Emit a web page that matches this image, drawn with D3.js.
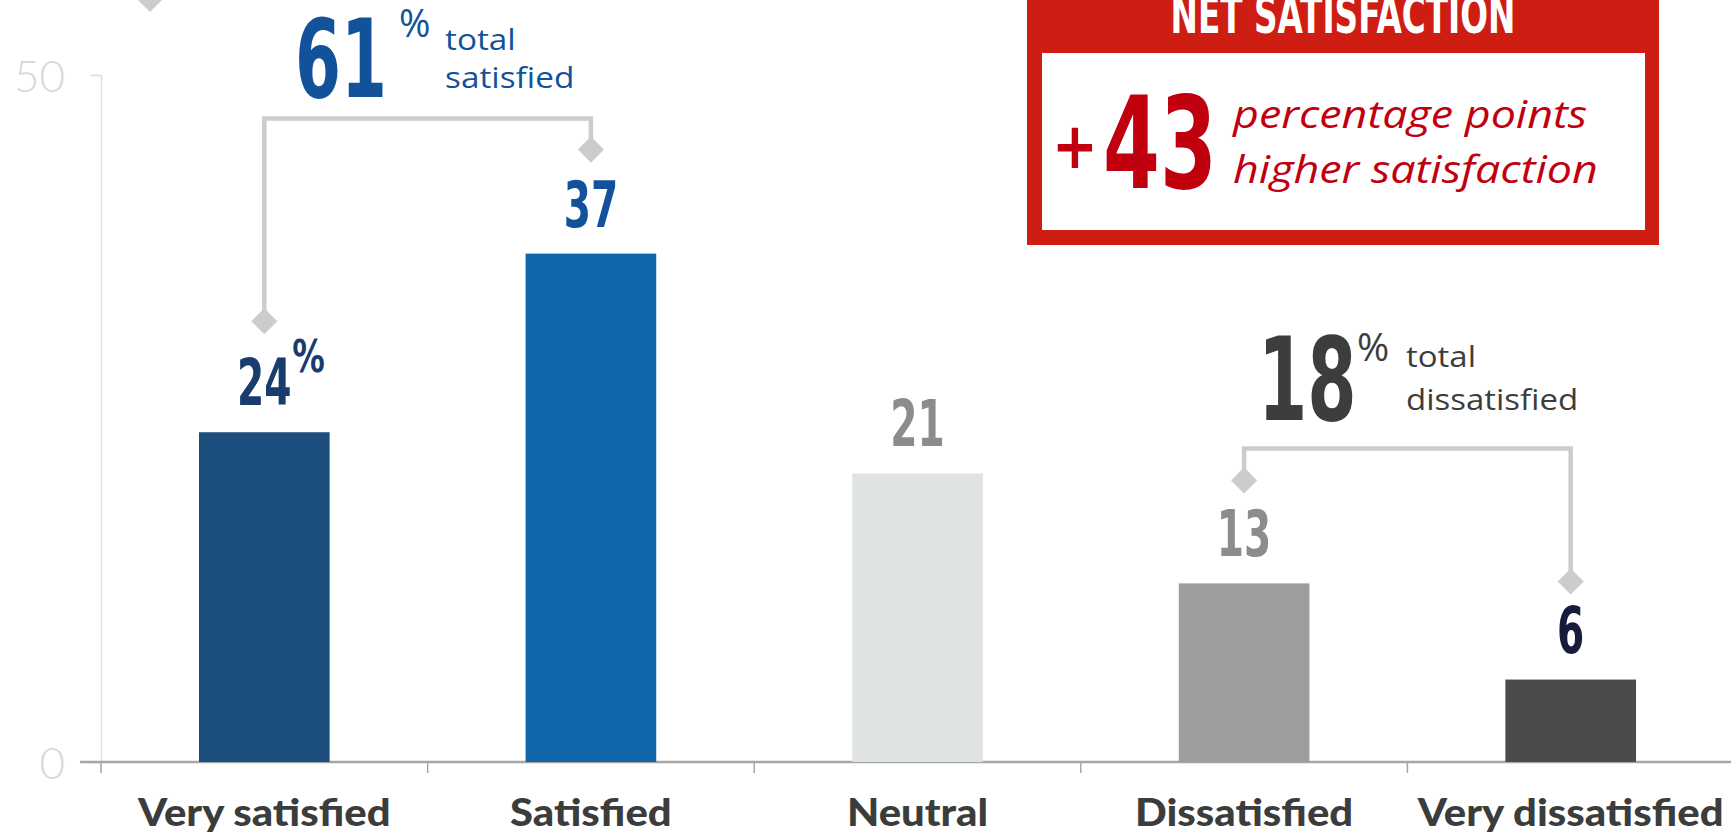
<!DOCTYPE html>
<html>
<head>
<meta charset="utf-8">
<script src="https://cdn.jsdelivr.net/npm/d3@7"></script>
<style>
  html, body { margin: 0; padding: 0; background: #ffffff; overflow: hidden; }
  svg { display: block; }
</style>
</head>
<body>
<svg id="chart" width="1731" height="835"></svg>
<script>
// ---------- data ----------
const categories = ["Very satisfied", "Satisfied", "Neutral", "Dissatisfied", "Very dissatisfied"];
const values = [24, 37, 21, 13, 6];
const barColors = ["#1d4f7e", "#1066a9", "#e0e3e4", "#9c9e9d", "#4a4b4b"];
const valueColors = ["#183d6d", "#12529a", "#8a8d8c", "#8a8d8c", "#161c3a"];
const yTicks = [0, 50];
const totalSatisfied = 61;
const totalDissatisfied = 18;
const netSatisfaction = 43;

// ---------- layout ----------
const svg = d3.select("#chart");
const y = d3.scaleLinear().domain([0, 50]).range([762, 75]);
const x = d3.scaleBand().domain(categories).range([101, 1734]).paddingInner(0.6).paddingOuter(0.3);
const cx = d => x(d) + x.bandwidth() / 2;

const condensed = "'Liberation Sans Narrow', 'DejaVu Sans Condensed', 'DejaVu Sans', sans-serif";
const geo = "'Open Sans', Lato, sans-serif";
const CS = 0.68; // horizontal squeeze for the condensed display numerals

function txt(g, str, px, py, opts) {
  const sx = opts.sx || 1;
  const t = g.append("text")
    .attr("transform", `translate(${px},${py}) scale(${sx},1)`)
    .attr("font-family", opts.family)
    .attr("font-size", opts.size)
    .attr("font-weight", opts.weight || 400)
    .attr("font-style", opts.style || "normal")
    .attr("fill", opts.fill)
    .attr("text-anchor", opts.anchor || "start")
    .text(str);
  if (opts.ls) t.attr("letter-spacing", opts.ls);
  return t;
}

// ---------- axes ----------
const yAxis = svg.append("g").attr("transform", "translate(101,0)")
  .call(d3.axisLeft(y).tickValues(yTicks).tickSize(11).tickPadding(25).tickFormat(d3.format("d")));
yAxis.select(".domain").attr("stroke", "#e0e0e0").attr("stroke-width", 1.5);
yAxis.selectAll(".tick line").attr("stroke", "#e0e0e0").attr("stroke-width", 1.5);
yAxis.selectAll(".tick text").attr("font-family", "Lato, sans-serif").attr("font-weight", 300)
  .attr("font-size", 44).attr("fill", "#d9d9d9").attr("dy", "0.38em");

const xAxis = svg.append("g").attr("transform", "translate(0,762)")
  .call(d3.axisBottom(x).tickSize(0).tickFormat(""));
xAxis.select(".domain").attr("stroke", "#a6a6a6").attr("stroke-width", 2.5).attr("d", "M80,0H1731");
xAxis.selectAll("line.bound").data(categories).enter().append("line")
  .attr("class", "bound")
  .attr("x1", d => x(d) - x.step() * x.paddingOuter()).attr("x2", d => x(d) - x.step() * x.paddingOuter())
  .attr("y1", 0).attr("y2", 11).attr("stroke", "#a6a6a6").attr("stroke-width", 1.5);

// ---------- bars ----------
svg.append("g").selectAll("rect").data(values).enter().append("rect")
  .attr("x", (d, i) => x(categories[i]))
  .attr("y", d => y(d))
  .attr("width", x.bandwidth())
  .attr("height", d => y(0) - y(d))
  .attr("fill", (d, i) => barColors[i]);

// value labels
const vl = svg.append("g");
values.forEach((v, i) => {
  txt(vl, String(v), cx(categories[i]), y(v) - 27, {
    family: condensed, size: 64, weight: 700, fill: valueColors[i], anchor: "middle", sx: CS
  });
});
txt(vl, "%", cx(categories[0]) + 28, y(values[0]) - 60, {
  family: condensed, size: 44, weight: 700, fill: valueColors[0], anchor: "start", sx: 0.82
});

// category labels
const cl = svg.append("g");
categories.forEach(c => {
  txt(cl, c, cx(c), 826, { family: "Lato, sans-serif", size: 38, weight: 900, fill: "#3b3c3c", anchor: "middle", sx: 1.1 });
});

// ---------- brackets ----------
const bracketColor = "#cccccc";
const br = svg.append("g");
function diamond(px, py) {
  br.append("path").attr("d", d3.symbol().type(d3.symbolSquare).size(340)())
    .attr("transform", `translate(${px},${py}) rotate(45)`).attr("fill", bracketColor);
}
function bracket(i0, i1, offs0, offs1) {
  const top = Math.min(y(values[i0]), y(values[i1])) - 135;
  const x0 = cx(categories[i0]), x1 = cx(categories[i1]);
  const d0 = y(values[i0]) - offs0, d1 = y(values[i1]) - offs1;
  br.append("path").attr("d", `M${x0},${d0}V${top}H${x1}V${d1}`)
    .attr("fill", "none").attr("stroke", bracketColor).attr("stroke-width", 4.5);
  diamond(x0, d0); diamond(x1, d1);
}
bracket(0, 1, 111, 104);
bracket(3, 4, 103, 98);
diamond(150, -1);

// ---------- totals ----------
const tg = svg.append("g");
txt(tg, String(totalSatisfied), 295, 97, { family: condensed, size: 108, weight: 700, fill: "#12529a", sx: CS });
txt(tg, "%", 399, 37, { family: geo, size: 38, weight: 400, fill: "#12529a" });
txt(tg, "total", 445, 50, { family: geo, size: 29, weight: 400, fill: "#12529a", sx: 1.15 });
txt(tg, "satisfied", 445, 88, { family: geo, size: 29, weight: 400, fill: "#12529a", sx: 1.15 });

txt(tg, String(totalDissatisfied), 1258, 420, { family: condensed, size: 116, weight: 700, fill: "#3c3d3d", sx: CS });
txt(tg, "%", 1357, 361, { family: geo, size: 39, weight: 400, fill: "#3c3d3d" });
txt(tg, "total", 1406, 367, { family: geo, size: 30, weight: 400, fill: "#3c3d3d", sx: 1.1 });
txt(tg, "dissatisfied", 1406, 410, { family: geo, size: 30, weight: 400, fill: "#3c3d3d", sx: 1.1 });

// ---------- net satisfaction box ----------
const nb = svg.append("g");
nb.append("rect").attr("x", 1027).attr("y", -10).attr("width", 632).attr("height", 255).attr("fill", "#ce1e13");
nb.append("rect").attr("x", 1042).attr("y", 53).attr("width", 603).attr("height", 177).attr("fill", "#ffffff");
txt(nb, "NET SATISFACTION", 1343, 33, { family: condensed, size: 52, weight: 700, fill: "#ffffff", anchor: "middle", sx: 0.7 });
txt(nb, "+", 1052, 168, { family: condensed, size: 64, weight: 700, fill: "#c1000f", sx: 0.95 });
txt(nb, String(netSatisfaction), 1103, 188, { family: condensed, size: 128, weight: 700, fill: "#c1000f", sx: 0.71 });
txt(nb, "percentage points", 1233, 128, { family: geo, size: 38, weight: 400, style: "italic", fill: "#c1000f", sx: 1.18 });
txt(nb, "higher satisfaction", 1233, 183, { family: geo, size: 38, weight: 400, style: "italic", fill: "#c1000f", sx: 1.18 });
</script>
</body>
</html>
